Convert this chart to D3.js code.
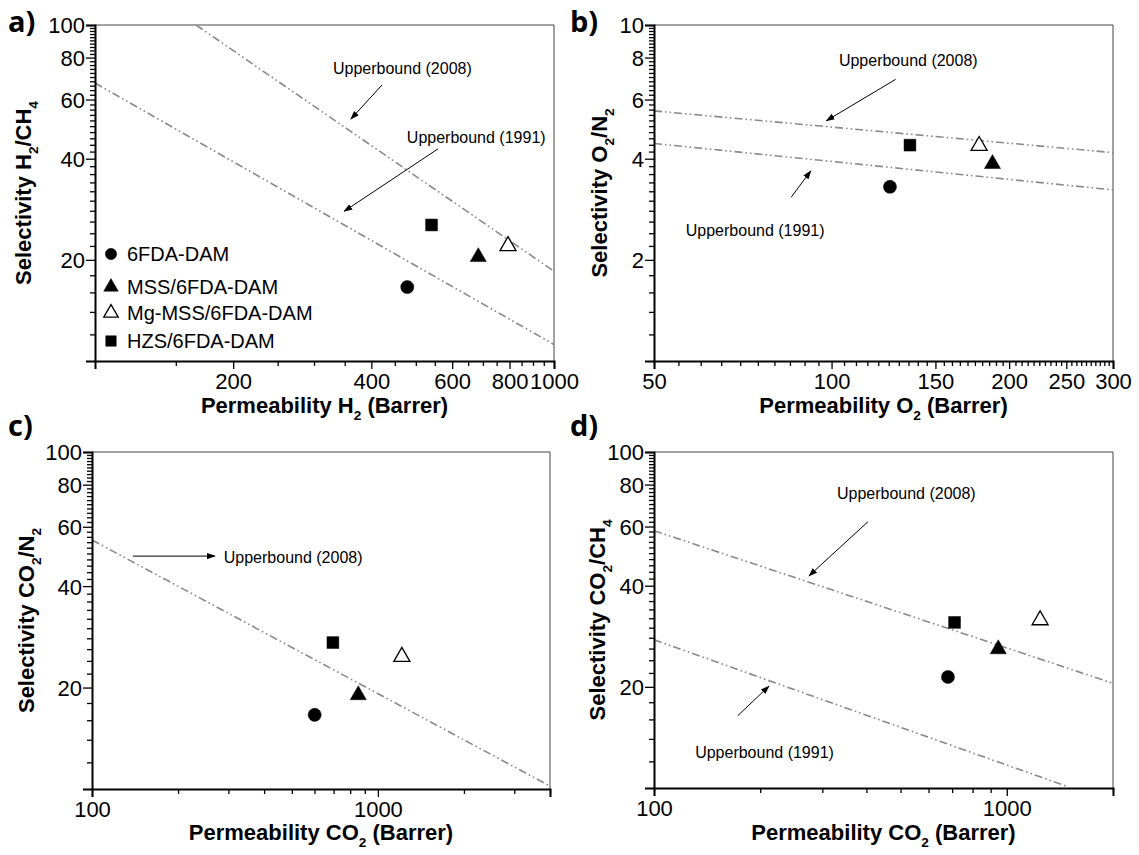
<!DOCTYPE html>
<html>
<head>
<meta charset="utf-8">
<script src="https://cdn.jsdelivr.net/npm/d3@7"></script>
<style>
  body { margin: 0; background: #fff; }
  svg text { font-family: "Liberation Sans", Arial, Helvetica, sans-serif; fill: #000; }
</style>
</head>
<body>
<svg id="fig" width="1139" height="855"></svg>
<script>
// ---- materials (same order in every panel) ----
const materials = ["6FDA-DAM", "MSS/6FDA-DAM", "Mg-MSS/6FDA-DAM", "HZS/6FDA-DAM"];
const symbolKinds = ["circle", "triangle", "triangle-open", "square"];

// ---- a) H2/CH4 ----
const permH2 = [479, 684, 794, 541];
const selH2CH4 = [16.6, 20.4, 22.0, 25.4];
const boundH2CH4_2008 = [[166, 100], [1000, 18.5]];
const boundH2CH4_1991 = [[100, 67.2], [1000, 11.2]];

// ---- b) O2/N2 ----
const permO2 = [125.6, 187.4, 177.9, 135.8];
const selO2N2 = [3.30, 3.86, 4.37, 4.39];
const boundO2N2_2008 = [[50, 5.55], [300, 4.17]];
const boundO2N2_1991 = [[50, 4.44], [300, 3.23]];

// ---- c) CO2/N2 ----
const permCO2_N2 = [601, 854, 1213, 696];
const selCO2N2 = [16.6, 19.0, 24.7, 27.2];
const boundCO2N2_2008 = [[100, 54.8], [4000, 10.2]];

// ---- d) CO2/CH4 ----
const permCO2_CH4 = [681, 946, 1243, 711];
const selCO2CH4 = [21.4, 25.9, 31.6, 31.1];
const boundCO2CH4_2008 = [[100, 58.3], [2000, 20.5]];
const boundCO2CH4_1991 = [[100, 27.6], [1486, 10.1]];

// ---- tick labels ----
const xTicksA = [200, 400, 600, 800, 1000];
const xTicksB = [50, 100, 150, 200, 250, 300];
const xTicksCD = [100, 1000];
const yTicksACD = [20, 40, 60, 80, 100];
const yTicksB = [2, 4, 6, 8, 10];

const notIn = arr => v => !arr.some(a => Math.abs(a - v) < 1e-9);
const xMinorA = d3.range(150, 1000, 50).filter(notIn(xTicksA));
const xMinorB = d3.range(55, 300, 5).filter(notIn(xTicksB));
const xMinorC = [200, 300, 400, 500, 600, 700, 800, 900, 2000, 3000, 4000];
const xMinorD = [200, 300, 400, 500, 600, 700, 800, 900, 2000];
const yMinorACD = d3.range(12, 100, 2).filter(notIn(yTicksACD));
const yMinorB = d3.range(12, 100, 2).map(v => v / 10).filter(notIn(yTicksB));

const svg = d3.select("#fig");
svg.append("rect").attr("width", 1139).attr("height", 855).attr("fill", "#fff");

const defs = svg.append("defs");
defs.append("marker").attr("id", "arrowHead")
  .attr("viewBox", "0 0 10 10").attr("refX", 9).attr("refY", 5)
  .attr("markerWidth", 9).attr("markerHeight", 9).attr("markerUnits", "userSpaceOnUse")
  .attr("orient", "auto")
  .append("path").attr("d", "M0,1.5 L10,5 L0,8.5 Z").attr("fill", "#000");

const symbolSize = { circle: 135, triangle: 112, square: 140 };
const legendSize = { circle: 100, triangle: 92, square: 110 };
function symbolPath(kind, sizes) {
  const base = kind.startsWith("triangle") ? "triangle" : kind;
  const type = base === "circle" ? d3.symbolCircle : base === "square" ? d3.symbolSquare : d3.symbolTriangle;
  return d3.symbol().type(type).size(sizes[base])();
}
function drawSymbol(g, kind, x, y, sizes) {
  g.append("path")
    .attr("d", symbolPath(kind, sizes))
    .attr("transform", `translate(${x},${y})`)
    .attr("fill", kind === "triangle-open" ? "#fff" : "#000")
    .attr("stroke", "#000")
    .attr("stroke-width", kind === "triangle-open" ? 1.3 : 0.5);
}

// text with subscripts: parts = [[text, isSub], ...]
function richText(sel, parts, size) {
  const shift = size * 0.32;
  parts.forEach(([t, sub], i) => {
    const ts = sel.append("tspan").attr("font-size", sub ? size * 0.62 : size).text(t);
    if (sub) ts.attr("dy", shift);
    else if (i > 0 && parts[i - 1][1]) ts.attr("dy", -shift);
  });
}

function panel(cfg) {
  const { left, top, width, height } = cfg;
  const x = d3.scaleLog().domain(cfg.xDomain).range([left, left + width]);
  const y = d3.scaleLog().domain(cfg.yDomain).range([top + height, top]);
  const g = svg.append("g");

  // frame (top and right)
  g.append("path")
    .attr("d", `M${left},${top} H${left + width} V${top + height}`)
    .attr("fill", "none").attr("stroke", "#444").attr("stroke-width", 1);

  const clipId = "clip-" + cfg.letter;
  defs.append("clipPath").attr("id", clipId)
    .append("rect").attr("x", left).attr("y", top).attr("width", width).attr("height", height);

  // upper bound lines
  const line = d3.line().x(d => x(d[0])).y(d => y(d[1]));
  cfg.bounds.forEach(b => {
    g.append("path").attr("d", line(b))
      .attr("clip-path", `url(#${clipId})`)
      .attr("fill", "none").attr("stroke", "#8a8a8a").attr("stroke-width", 1.6)
      .attr("stroke-dasharray", "8,3,1.6,3,1.6,3");
  });

  // annotations: text + arrow
  cfg.notes.forEach(n => {
    g.append("text").attr("x", x(n.text[0])).attr("y", y(n.text[1]) + 6)
      .attr("font-size", 16).text(n.label);
    g.append("line")
      .attr("x1", x(n.from[0])).attr("y1", y(n.from[1]))
      .attr("x2", x(n.to[0])).attr("y2", y(n.to[1]))
      .attr("stroke", "#000").attr("stroke-width", 1)
      .attr("marker-end", "url(#arrowHead)");
  });

  // axes
  const xAxis = g.append("g").attr("transform", `translate(0,${top + height})`)
    .call(d3.axisBottom(x).tickValues(cfg.xTicks).tickFormat(d3.format("d")).tickSize(8).tickPadding(4));
  g.append("g").attr("transform", `translate(0,${top + height})`)
    .call(d3.axisBottom(x).tickValues(cfg.xMinor).tickSize(5))
    .call(a => { a.select(".domain").remove(); a.selectAll("text").remove(); });
  const yAxis = g.append("g").attr("transform", `translate(${left},0)`)
    .call(d3.axisLeft(y).tickValues(cfg.yTicks).tickFormat(d3.format("d")).tickSize(9).tickPadding(1));
  g.append("g").attr("transform", `translate(${left},0)`)
    .call(d3.axisLeft(y).tickValues(cfg.yMinor).tickSize(5))
    .call(a => { a.select(".domain").remove(); a.selectAll("text").remove(); });

  g.selectAll(".domain").attr("stroke", "#000").attr("stroke-width", 2);
  g.selectAll(".tick line").attr("stroke", "#000").attr("stroke-width", 1.3);
  xAxis.selectAll(".tick text").attr("font-size", 22).attr("font-family", null).attr("dy", "0.72em");
  yAxis.selectAll(".tick text").attr("font-size", 22).attr("font-family", null).attr("dy", "0.36em");

  // data points
  cfg.xs.forEach((xv, i) => drawSymbol(g, symbolKinds[i], x(xv), y(cfg.ys[i]), symbolSize));

  // axis titles
  const xt = g.append("text").attr("x", left + width / 2).attr("y", cfg.xTitleY)
    .attr("text-anchor", "middle").attr("font-weight", "bold");
  richText(xt, cfg.xTitle, 22);
  const yt = g.append("text")
    .attr("transform", `translate(${cfg.yTitleX},${top + height / 2}) rotate(-90)`)
    .attr("text-anchor", "middle").attr("font-weight", "bold");
  richText(yt, cfg.yTitle, 22);

  // panel letter
  svg.append("text").attr("x", cfg.letterX).attr("y", cfg.letterY)
    .attr("font-size", 29).attr("font-weight", "bold")
    .style("font-family", "'Open Sans', 'Noto Sans', sans-serif")
    .text(cfg.letter + ")");

  return { g, x, y };
}

const pa = panel({
  letter: "a", letterX: 8, letterY: 32,
  left: 95, top: 25, width: 459, height: 336,
  xDomain: [100, 1000], yDomain: [10, 100],
  xTicks: xTicksA, xMinor: xMinorA, yTicks: yTicksACD, yMinor: yMinorACD,
  xs: permH2, ys: selH2CH4,
  bounds: [boundH2CH4_2008, boundH2CH4_1991],
  notes: [
    { label: "Upperbound (2008)", text: [330, 74.5], from: [422, 66.3], to: [361, 52.5] },
    { label: "Upperbound (1991)", text: [478, 46.4], from: [559, 42.8], to: [349, 27.9] }
  ],
  xTitle: [["Permeability H", false], ["2", true], [" (Barrer)", false]], xTitleY: 413,
  yTitle: [["Selectivity H", false], ["2", true], ["/CH", false], ["4", true]], yTitleX: 31
});

// legend in panel a
const legendRows = [254, 287, 313, 341];
materials.forEach((m, i) => {
  drawSymbol(pa.g, symbolKinds[i], 111, legendRows[i], legendSize);
  pa.g.append("text").attr("x", 127).attr("y", legendRows[i] + 7)
    .attr("font-size", 20).text(m);
});

panel({
  letter: "b", letterX: 570, letterY: 32,
  left: 654, top: 25, width: 459, height: 336,
  xDomain: [50, 300], yDomain: [1, 10],
  xTicks: xTicksB, xMinor: xMinorB, yTicks: yTicksB, yMinor: yMinorB,
  xs: permO2, ys: selO2N2,
  bounds: [boundO2N2_2008, boundO2N2_1991],
  notes: [
    { label: "Upperbound (2008)", text: [102.9, 7.87], from: [128.4, 6.89], to: [98.0, 5.19] },
    { label: "Upperbound (1991)", text: [56.6, 2.45], from: [85.4, 3.07], to: [92.2, 3.68] }
  ],
  xTitle: [["Permeability O", false], ["2", true], [" (Barrer)", false]], xTitleY: 413,
  yTitle: [["Selectivity O", false], ["2", true], ["/N", false], ["2", true]], yTitleX: 607
});

panel({
  letter: "c", letterX: 8, letterY: 436,
  left: 92, top: 452, width: 458, height: 337,
  xDomain: [100, 4000], yDomain: [10, 100],
  xTicks: xTicksCD, xMinor: xMinorC, yTicks: yTicksACD, yMinor: yMinorACD,
  xs: permCO2_N2, ys: selCO2N2,
  bounds: [boundCO2N2_2008],
  notes: [
    { label: "Upperbound (2008)", text: [289, 48.9], from: [139, 49.1], to: [269, 49.1] }
  ],
  xTitle: [["Permeability CO", false], ["2", true], [" (Barrer)", false]], xTitleY: 840,
  yTitle: [["Selectivity CO", false], ["2", true], ["/N", false], ["2", true]], yTitleX: 34
});

panel({
  letter: "d", letterX: 570, letterY: 436,
  left: 654, top: 452, width: 459, height: 336,
  xDomain: [100, 2000], yDomain: [10, 100],
  xTicks: xTicksCD, xMinor: xMinorD, yTicks: yTicksACD, yMinor: yMinorACD,
  xs: permCO2_CH4, ys: selCO2CH4,
  bounds: [boundCO2CH4_2008, boundCO2CH4_1991],
  notes: [
    { label: "Upperbound (2008)", text: [330, 75.5], from: [404, 62.0], to: [275, 42.8] },
    { label: "Upperbound (1991)", text: [130.8, 12.8], from: [172.6, 16.4], to: [211.8, 20.1] }
  ],
  xTitle: [["Permeability CO", false], ["2", true], [" (Barrer)", false]], xTitleY: 840,
  yTitle: [["Selectivity CO", false], ["2", true], ["/CH", false], ["4", true]], yTitleX: 605
});
</script>
</body>
</html>
